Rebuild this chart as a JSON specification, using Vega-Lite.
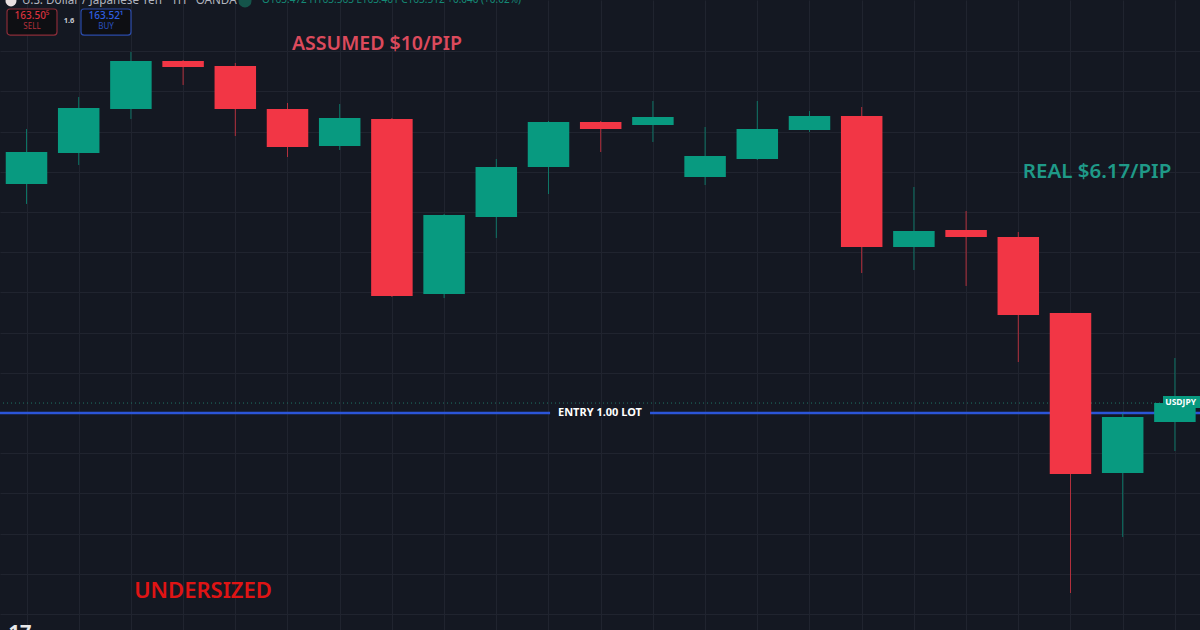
{
  "$schema": "https://vega.github.io/schema/vega-lite/v6.json",
  "width": 1200,
  "height": 630,
  "padding": 0,
  "autosize": {"type": "none"},
  "background": "#141822",
  "config": {"view": {"stroke": null}, "font": "Noto Sans"},
  "datasets": {
    "candles": [
      {"idx": 1, "open": 163.7848, "high": 163.8532, "low": 163.76, "close": 163.8246, "dir": "up"},
      {"idx": 2, "open": 163.8234, "high": 163.893, "low": 163.8085, "close": 163.8794, "dir": "up"},
      {"idx": 3, "open": 163.8781, "high": 163.949, "low": 163.8657, "close": 163.9378, "dir": "up"},
      {"idx": 4, "open": 163.9378, "high": 163.9391, "low": 163.908, "close": 163.9303, "dir": "down"},
      {"idx": 5, "open": 163.9316, "high": 163.9353, "low": 163.8445, "close": 163.8781, "dir": "down"},
      {"idx": 6, "open": 163.8781, "high": 163.8856, "low": 163.8184, "close": 163.8308, "dir": "down"},
      {"idx": 7, "open": 163.8321, "high": 163.8843, "low": 163.8271, "close": 163.8669, "dir": "up"},
      {"idx": 8, "open": 163.8657, "high": 163.8669, "low": 163.6443, "close": 163.6455, "dir": "down"},
      {"idx": 9, "open": 163.648, "high": 163.7475, "low": 163.643, "close": 163.7463, "dir": "up"},
      {"idx": 10, "open": 163.7438, "high": 163.8159, "low": 163.7177, "close": 163.806, "dir": "up"},
      {"idx": 11, "open": 163.806, "high": 163.8632, "low": 163.7724, "close": 163.8619, "dir": "up"},
      {"idx": 12, "open": 163.8619, "high": 163.8632, "low": 163.8246, "close": 163.8532, "dir": "down"},
      {"idx": 13, "open": 163.8582, "high": 163.8881, "low": 163.8371, "close": 163.8682, "dir": "up"},
      {"idx": 14, "open": 163.7935, "high": 163.8557, "low": 163.7836, "close": 163.8197, "dir": "up"},
      {"idx": 15, "open": 163.8159, "high": 163.8881, "low": 163.8147, "close": 163.8532, "dir": "up"},
      {"idx": 16, "open": 163.852, "high": 163.8756, "low": 163.8495, "close": 163.8694, "dir": "up"},
      {"idx": 17, "open": 163.8694, "high": 163.8806, "low": 163.6741, "close": 163.7065, "dir": "down"},
      {"idx": 18, "open": 163.7065, "high": 163.7811, "low": 163.6779, "close": 163.7264, "dir": "up"},
      {"idx": 19, "open": 163.7276, "high": 163.7512, "low": 163.658, "close": 163.7189, "dir": "down"},
      {"idx": 20, "open": 163.7189, "high": 163.7251, "low": 163.5634, "close": 163.6219, "dir": "down"},
      {"idx": 21, "open": 163.6244, "high": 163.6244, "low": 163.2761, "close": 163.4241, "dir": "down"},
      {"idx": 22, "open": 163.4254, "high": 163.5, "low": 163.3458, "close": 163.495, "dir": "up"},
      {"idx": 23, "open": 163.4888, "high": 163.5684, "low": 163.4527, "close": 163.5124, "dir": "up"}
    ],
    "quotes": [
      {"idx": 0.6264, "idx2": 1.584, "top": 164.0025, "bottom": 163.9701, "side": "sell"},
      {"idx": 2.044, "idx2": 3.002, "top": 164.0025, "bottom": 163.9701, "side": "buy"}
    ]
  },
  "layer": [
    {
      "data": {"values": [{"entry": 163.5}]},
      "mark": {"type": "rule", "color": "#2b55d8", "strokeWidth": 2.5},
      "encoding": {
        "y": {
          "field": "entry",
          "type": "quantitative",
          "scale": {"domain": [163.2301, 164.0137], "nice": false, "zero": false},
          "axis": {
            "values": [163.25, 163.3, 163.35, 163.4, 163.45, 163.5, 163.55, 163.6, 163.65, 163.7, 163.75, 163.8, 163.85, 163.9, 163.95],
            "grid": true, "gridColor": "#20242f", "gridWidth": 1,
            "domain": false, "ticks": false, "labels": false, "title": null
          }
        }
      }
    },
    {
      "data": {"values": [{"last": 163.5124}]},
      "mark": {"type": "rule", "color": "#1f7466", "strokeWidth": 1, "strokeDash": [1, 3]},
      "encoding": {"y": {"field": "last", "type": "quantitative"}}
    },
    {
      "data": {"values": [{"a": 11.03, "b": 12.945, "top": 163.505, "bottom": 163.495}]},
      "mark": {"type": "rect", "color": "#141822"},
      "encoding": {
        "x": {"field": "a", "type": "quantitative"},
        "x2": {"field": "b"},
        "y": {"field": "top", "type": "quantitative"},
        "y2": {"field": "bottom"}
      }
    },
    {
      "data": {"name": "candles"},
      "mark": {"type": "rule", "strokeWidth": 1, "opacity": 0.7},
      "encoding": {
        "x": {
          "field": "idx",
          "type": "quantitative",
          "scale": {"domain": [0.4923, 23.481], "nice": false, "zero": false, "padding": 0},
          "axis": {
            "values": [1, 2, 3, 4, 5, 6, 7, 8, 9, 10, 11, 12, 13, 14, 15, 16, 17, 18, 19, 20, 21, 22, 23],
            "grid": true, "gridColor": "#20242f", "gridWidth": 1,
            "domain": false, "ticks": false, "labels": false, "title": null
          }
        },
        "y": {"field": "high", "type": "quantitative"},
        "y2": {"field": "low"},
        "color": {
          "field": "dir",
          "type": "nominal",
          "scale": {"domain": ["up", "down"], "range": ["#089a80", "#f23645"]},
          "legend": null
        }
      }
    },
    {
      "data": {"name": "candles"},
      "mark": {"type": "bar", "size": 41.5},
      "encoding": {
        "x": {"field": "idx", "type": "quantitative"},
        "y": {"field": "open", "type": "quantitative"},
        "y2": {"field": "close"},
        "color": {"field": "dir", "type": "nominal", "legend": null}
      }
    },
    {
      "data": {"values": [{"a": 22.772, "b": 23.481, "top": 163.5211, "bottom": 163.5062}]},
      "mark": {"type": "rect", "color": "#089a80"},
      "encoding": {
        "x": {"field": "a", "type": "quantitative"},
        "x2": {"field": "b"},
        "y": {"field": "top", "type": "quantitative"},
        "y2": {"field": "bottom"}
      }
    },
    {
      "data": {"name": "quotes"},
      "mark": {"type": "rect", "fill": "#0e0f13", "strokeWidth": 1.2, "cornerRadius": 3},
      "encoding": {
        "x": {"field": "idx", "type": "quantitative"},
        "x2": {"field": "idx2"},
        "y": {"field": "top", "type": "quantitative"},
        "y2": {"field": "bottom"},
        "stroke": {
          "field": "side",
          "type": "nominal",
          "scale": {"domain": ["sell", "buy"], "range": ["#8a2c38", "#2a4aa8"]},
          "legend": null
        }
      }
    },
    {
      "data": {"values": [{"idx": 1.105, "price": 163.9932, "label": "163.50⁵"}]},
      "mark": {"type": "text", "color": "#d9323e", "fontSize": 10, "fontWeight": 500},
      "encoding": {
        "x": {"field": "idx", "type": "quantitative"},
        "y": {"field": "price", "type": "quantitative"},
        "text": {"field": "label"}
      }
    },
    {
      "data": {"values": [{"idx": 1.105, "price": 163.9795, "label": "SELL"}]},
      "mark": {"type": "text", "color": "#b3303c", "fontSize": 8},
      "encoding": {
        "x": {"field": "idx", "type": "quantitative"},
        "y": {"field": "price", "type": "quantitative"},
        "text": {"field": "label"}
      }
    },
    {
      "data": {"values": [{"idx": 2.523, "price": 163.9932, "label": "163.52¹"}]},
      "mark": {"type": "text", "color": "#2f5fe0", "fontSize": 10, "fontWeight": 500},
      "encoding": {
        "x": {"field": "idx", "type": "quantitative"},
        "y": {"field": "price", "type": "quantitative"},
        "text": {"field": "label"}
      }
    },
    {
      "data": {"values": [{"idx": 2.523, "price": 163.9795, "label": "BUY"}]},
      "mark": {"type": "text", "color": "#2a4fc0", "fontSize": 8},
      "encoding": {
        "x": {"field": "idx", "type": "quantitative"},
        "y": {"field": "price", "type": "quantitative"},
        "text": {"field": "label"}
      }
    },
    {
      "data": {"values": [{"idx": 1.815, "price": 163.9876, "label": "1.6"}]},
      "mark": {"type": "text", "color": "#c8cad0", "fontSize": 7.5, "fontWeight": "bold"},
      "encoding": {
        "x": {"field": "idx", "type": "quantitative"},
        "y": {"field": "price", "type": "quantitative"},
        "text": {"field": "label"}
      }
    },
    {
      "data": {"values": [{"idx": 5.186, "price": 164.0125}]},
      "mark": {"type": "point", "filled": true, "size": 170, "color": "#14544a", "opacity": 1},
      "encoding": {
        "x": {"field": "idx", "type": "quantitative"},
        "y": {"field": "price", "type": "quantitative"}
      }
    },
    {
      "data": {"values": [{"idx": 0.703, "price": 164.0125}]},
      "mark": {"type": "point", "filled": true, "size": 120, "color": "#e8dfe0", "opacity": 1},
      "encoding": {
        "x": {"field": "idx", "type": "quantitative"},
        "y": {"field": "price", "type": "quantitative"}
      }
    },
    {
      "data": {"values": [{"idx": 0.914, "price": 164.0087, "label": "U.S. Dollar / Japanese Yen · 1H · OANDA"}]},
      "mark": {"type": "text", "color": "#b2b5be", "fontSize": 11.7, "align": "left", "baseline": "alphabetic"},
      "encoding": {
        "x": {"field": "idx", "type": "quantitative"},
        "y": {"field": "price", "type": "quantitative"},
        "text": {"field": "label"}
      }
    },
    {
      "data": {"values": [{"idx": 5.512, "price": 164.0099, "label": "O163.472 H163.563 L163.461 C163.512 +0.040 (+0.02%)"}]},
      "mark": {"type": "text", "color": "#148a76", "fontSize": 10, "align": "left", "baseline": "alphabetic"},
      "encoding": {
        "x": {"field": "idx", "type": "quantitative"},
        "y": {"field": "price", "type": "quantitative"},
        "text": {"field": "label"}
      }
    },
    {
      "data": {"values": [{"idx": 7.714, "price": 163.9589, "label": "ASSUMED $10/PIP"}]},
      "mark": {"type": "text", "color": "#dc4a5c", "fontSize": 19.5, "fontWeight": 600},
      "encoding": {
        "x": {"field": "idx", "type": "quantitative"},
        "y": {"field": "price", "type": "quantitative"},
        "text": {"field": "label"}
      }
    },
    {
      "data": {"values": [{"idx": 21.508, "price": 163.7997, "label": "REAL $6.17/PIP"}]},
      "mark": {"type": "text", "color": "#1f9a88", "fontSize": 20.5, "fontWeight": 600},
      "encoding": {
        "x": {"field": "idx", "type": "quantitative"},
        "y": {"field": "price", "type": "quantitative"},
        "text": {"field": "label"}
      }
    },
    {
      "data": {"values": [{"idx": 4.381, "price": 163.2787, "label": "UNDERSIZED"}]},
      "mark": {"type": "text", "color": "#e01414", "fontSize": 22, "fontWeight": 600},
      "encoding": {
        "x": {"field": "idx", "type": "quantitative"},
        "y": {"field": "price", "type": "quantitative"},
        "text": {"field": "label"}
      }
    },
    {
      "data": {"values": [{"idx": 11.985, "price": 163.4995, "label": "ENTRY 1.00 LOT"}]},
      "mark": {"type": "text", "color": "#ffffff", "fontSize": 11, "fontWeight": "bold"},
      "encoding": {
        "x": {"field": "idx", "type": "quantitative"},
        "y": {"field": "price", "type": "quantitative"},
        "text": {"field": "label"}
      }
    },
    {
      "data": {"values": [{"idx": 23.11, "price": 163.5136, "label": "USDJPY"}]},
      "mark": {"type": "text", "color": "#ffffff", "fontSize": 8.5, "fontWeight": "bold"},
      "encoding": {
        "x": {"field": "idx", "type": "quantitative"},
        "y": {"field": "price", "type": "quantitative"},
        "text": {"field": "label"}
      }
    },
    {
      "data": {"values": [{"idx": 0.875, "price": 163.2195, "label": "17"}]},
      "mark": {"type": "text", "color": "#e8e8e8", "fontSize": 20, "fontWeight": "bold", "baseline": "alphabetic"},
      "encoding": {
        "x": {"field": "idx", "type": "quantitative"},
        "y": {"field": "price", "type": "quantitative"},
        "text": {"field": "label"}
      }
    }
  ]
}
